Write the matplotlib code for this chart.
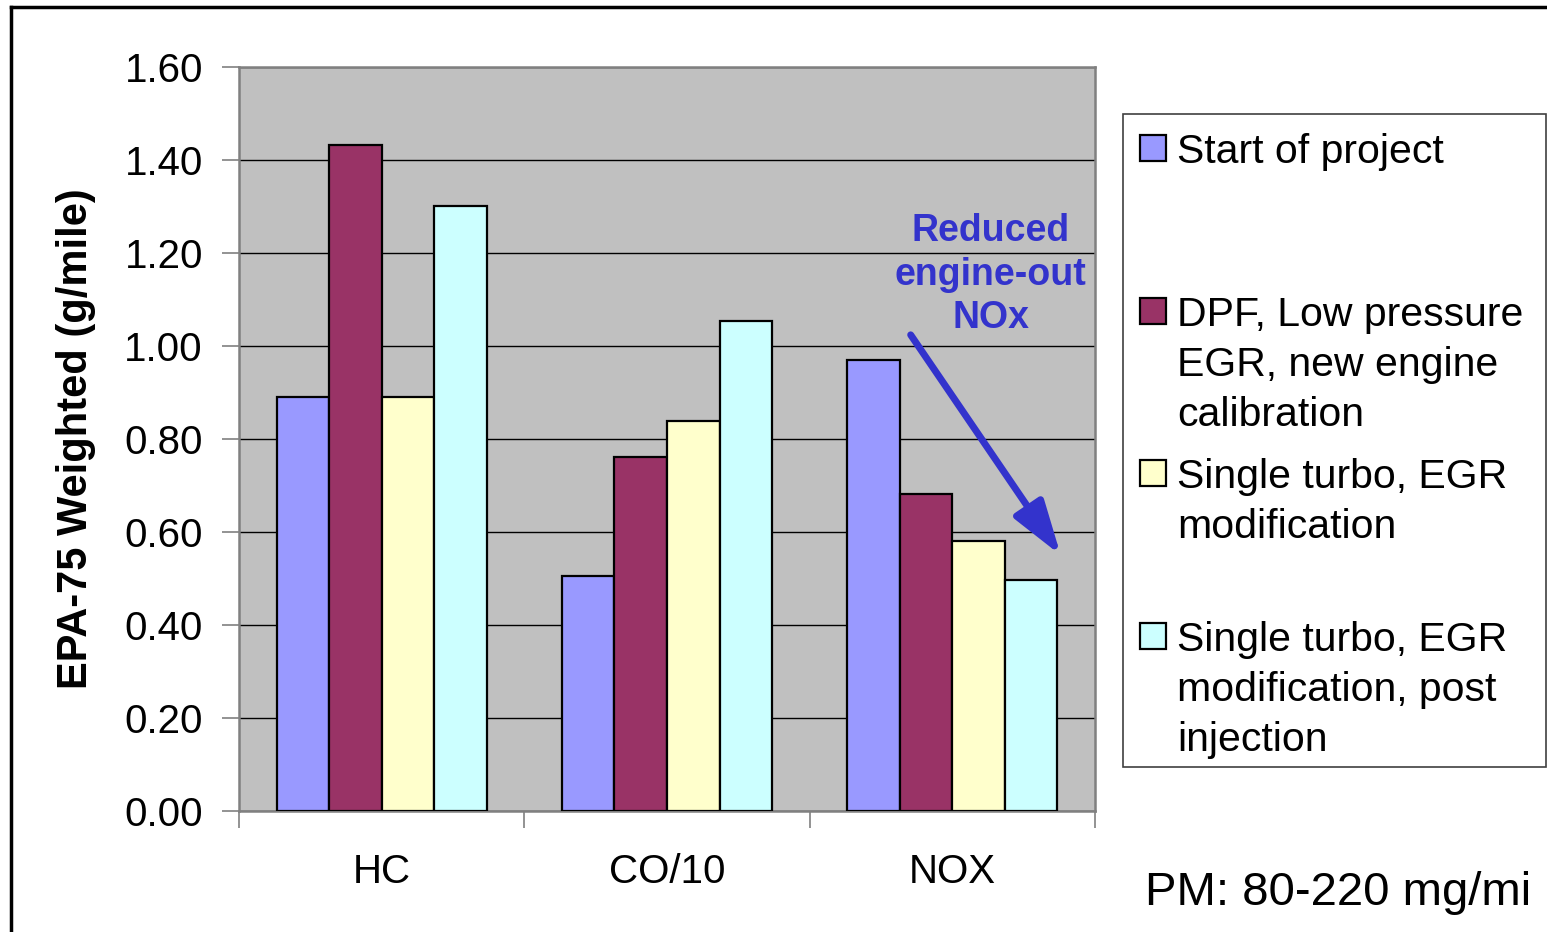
import matplotlib.pyplot as plt
import numpy as np
from matplotlib.patches import Rectangle
from matplotlib.lines import Line2D

plt.rcParams['font.family'] = ['Liberation Sans', 'DejaVu Sans']

# Данные
categories = ['HC', 'CO/10', 'NOX']
series_names = [
    'Start of project',
    'DPF, Low pressure\nEGR, new engine\ncalibration',
    'Single turbo, EGR\nmodification',
    'Single turbo, EGR\nmodification, post\ninjection',
]
start_of_project = [0.89, 0.505, 0.97]
dpf_low_pressure = [1.432, 0.761, 0.682]
single_turbo = [0.89, 0.839, 0.581]
single_turbo_post = [1.301, 1.054, 0.497]
colors = ['#9999FF', '#993366', '#FFFFCC', '#CCFFFF']
yticks = [0.0, 0.2, 0.4, 0.6, 0.8, 1.0, 1.2, 1.4, 1.6]

W, H = 1547, 932
fig = plt.figure(figsize=(W / 100, H / 100), dpi=100)
fig.patch.set_facecolor('white')


def fx(px):
    return px / W


def fy(py):
    return 1 - py / H


ax = fig.add_axes([fx(239), fy(811), fx(1095) - fx(239), fy(67) - fy(811)])
ax.set_facecolor('#C0C0C0')

x = np.arange(len(categories))
width = 0.184
values = [start_of_project, dpf_low_pressure, single_turbo, single_turbo_post]
for i, (vals, c) in enumerate(zip(values, colors)):
    ax.bar(x + (i - 1.5) * width, vals, width, color=c, edgecolor='black',
           linewidth=1.6, zorder=3)

ax.set_xlim(-0.5, 2.5)
ax.set_ylim(0, 1.6)
ax.set_yticks(yticks)
ax.set_yticklabels([f'{v:.2f}' for v in yticks], fontsize=29)
ax.yaxis.grid(True, color='black', linewidth=1.0, zorder=1)
ax.tick_params(axis='y', length=12, width=1.2, color='#808080', pad=14)

# подписи категорий по центру, засечки на границах групп
ax.set_xticks(x)
ax.set_xticklabels(categories, fontsize=29)
ax.tick_params(axis='x', which='major', length=0, pad=30)
ax.set_xticks([-0.5, 0.5, 1.5, 2.5], minor=True)
ax.tick_params(axis='x', which='minor', length=12, width=1.2, color='#808080')

for s in ax.spines.values():
    s.set_color('#808080')
    s.set_linewidth(1.8)

ax.set_ylabel('EPA-75 Weighted (g/mile)', fontsize=30, fontweight='bold',
              labelpad=20)

# стрелка с подписью
ax.text(2.135, 1.153, 'Reduced\nengine-out\nNOx', color='#3333CC',
        fontsize=27, fontweight='bold', ha='center', va='center',
        linespacing=1.27, zorder=5)
ax.annotate('', xy=(2.38, 0.55), xytext=(1.854, 1.024),
            arrowprops=dict(arrowstyle='-|>,head_length=1.1,head_width=0.35',
                            color='#3333CC', lw=5, mutation_scale=30,
                            shrinkA=0, shrinkB=0),
            zorder=5)

# легенда
fig.add_artist(Rectangle((fx(1123), fy(767)), fx(1546) - fx(1123),
                         fy(114) - fy(767), transform=fig.transFigure,
                         facecolor='white', edgecolor='#404040', linewidth=1.2))
first_lines = [148, 311, 473, 636]
for name, c, yc in zip(series_names, colors, first_lines):
    fig.add_artist(Rectangle((fx(1140), fy(yc + 13)), fx(26), 26 / H,
                             transform=fig.transFigure, facecolor=c,
                             edgecolor='black', linewidth=1.6))
    for k, line in enumerate(name.split('\n')):
        fig.text(fx(1177), fy(yc + 50 * k + 15), line, fontsize=29.5,
                 ha='left', va='baseline')

fig.text(fx(1145), fy(893), 'PM: 80-220 mg/mi', fontsize=34,
         ha='left', va='center')

# внешняя рамка
fig.add_artist(Line2D([fx(11), fx(11)], [fy(7), 0], color='black',
                      linewidth=2.5, transform=fig.transFigure))
fig.add_artist(Line2D([fx(11), 1], [fy(7), fy(7)], color='black',
                      linewidth=2.5, transform=fig.transFigure))

fig.savefig('out.png', dpi=100)
